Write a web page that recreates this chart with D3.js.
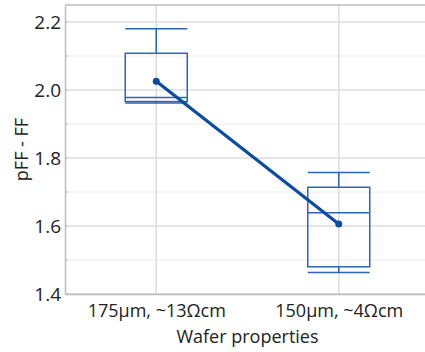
<!DOCTYPE html>
<html><head><meta charset="utf-8">
<script src="https://cdn.jsdelivr.net/npm/d3@7"></script>
<style>body{margin:0;background:#fff}svg{display:block}text{font-family:"Open Sans",sans-serif;fill:#222}</style>
</head><body>
<script>
const categories = ["175µm, ~13Ωcm", "150µm, ~4Ωcm"];
const whiskerLow = [1.962, 1.463];
const q1 = [1.966, 1.480];
const median = [1.978, 1.639];
const q3 = [2.108, 1.714];
const whiskerHigh = [2.18, 1.757];
const means = [2.026, 1.606];
const majorTicks = [1.4, 1.6, 1.8, 2.0, 2.2];
const minorTicks = [1.5, 1.7, 1.9, 2.1];

const W = 425, H = 352;
const m = {l: 65, t: 5, r: -5, b: 58};
const svg = d3.select("body").append("svg").attr("width", W).attr("height", H);
const x = d3.scalePoint().domain(categories).range([m.l, W - m.r]).padding(0.5);
const y = d3.scaleLinear().domain([1.4, 2.25]).range([H - m.b, m.t]);

const g = svg.append("g");
// grid
g.selectAll(".minor").data(minorTicks).join("line")
  .attr("x1", m.l).attr("x2", W).attr("y1", d => y(d)).attr("y2", d => y(d))
  .attr("stroke", "#ececec").attr("stroke-width", 1);
g.selectAll(".major").data(majorTicks).join("line")
  .attr("x1", m.l).attr("x2", W).attr("y1", d => y(d)).attr("y2", d => y(d))
  .attr("stroke", "#dcdcdc").attr("stroke-width", 1.5);
g.selectAll(".vgrid").data(categories).join("line")
  .attr("x1", d => x(d)).attr("x2", d => x(d)).attr("y1", m.t).attr("y2", H - m.b)
  .attr("stroke", "#dcdcdc").attr("stroke-width", 1.5);
// top border
g.append("line").attr("x1", m.l).attr("x2", W).attr("y1", m.t).attr("y2", m.t)
  .attr("stroke", "#bdbdbd").attr("stroke-width", 1.5);

// axes
const yAxis = d3.axisLeft(y).tickValues(majorTicks).tickFormat(d3.format(".1f")).tickSize(0).tickPadding(4);
const ya = svg.append("g").attr("transform", `translate(${m.l},0)`).call(yAxis);
ya.select(".domain").attr("stroke", "#bdbdbd").attr("stroke-width", 1.5);
ya.selectAll("text").style("font-size", "19px").attr("fill", "#222");
// small ticks
svg.append("g").selectAll("line").data(majorTicks.concat(minorTicks)).join("line")
  .attr("x1", m.l).attr("x2", m.l + 3).attr("y1", d => y(d)).attr("y2", d => y(d))
  .attr("stroke", "#bdbdbd").attr("stroke-width", 1);

const xAxis = d3.axisBottom(x).tickSize(0).tickPadding(10);
const xa = svg.append("g").attr("transform", `translate(0,${H - m.b})`).call(xAxis);
xa.select(".domain").attr("stroke", "#bdbdbd").attr("stroke-width", 1.5);
xa.selectAll("text").style("font-size", "18px").attr("fill", "#222");

// boxes
const bw = 62;
const boxColor = "#2d65b4";
const data = categories.map((c, i) => ({c, lo: whiskerLow[i], q1: q1[i], med: median[i], q3: q3[i], hi: whiskerHigh[i], mean: means[i]}));
const bg = svg.append("g").attr("fill", "none").attr("stroke", boxColor).attr("stroke-width", 1.5);
data.forEach(d => {
  const cx = x(d.c);
  bg.append("line").attr("x1", cx).attr("x2", cx).attr("y1", y(d.hi)).attr("y2", y(d.q3));
  bg.append("line").attr("x1", cx).attr("x2", cx).attr("y1", y(d.q1)).attr("y2", y(d.lo));
  bg.append("line").attr("x1", cx - bw/2).attr("x2", cx + bw/2).attr("y1", y(d.hi)).attr("y2", y(d.hi));
  bg.append("line").attr("x1", cx - bw/2).attr("x2", cx + bw/2).attr("y1", y(d.lo)).attr("y2", y(d.lo));
  bg.append("rect").attr("x", cx - bw/2).attr("y", y(d.q3)).attr("width", bw).attr("height", y(d.q1) - y(d.q3));
  bg.append("line").attr("x1", cx - bw/2).attr("x2", cx + bw/2).attr("y1", y(d.med)).attr("y2", y(d.med));
});

// mean line
const lineColor = "#0a4c9f";
svg.append("path").datum(data)
  .attr("d", d3.line().x(d => x(d.c)).y(d => y(d.mean)))
  .attr("fill", "none").attr("stroke", lineColor).attr("stroke-width", 3.2);
svg.append("g").selectAll("circle").data(data).join("circle")
  .attr("cx", d => x(d.c)).attr("cy", d => y(d.mean)).attr("r", 3.5).attr("fill", lineColor);

// titles
svg.append("text").attr("x", (m.l + W - m.r) / 2).attr("y", 343).attr("text-anchor", "middle")
  .style("font-size", "18px").text("Wafer properties");
svg.append("text").attr("transform", `translate(28,${y(1.825)}) rotate(-90)`).attr("text-anchor", "middle")
  .style("font-size", "18px").text("pFF - FF");
</script>
</body></html>
